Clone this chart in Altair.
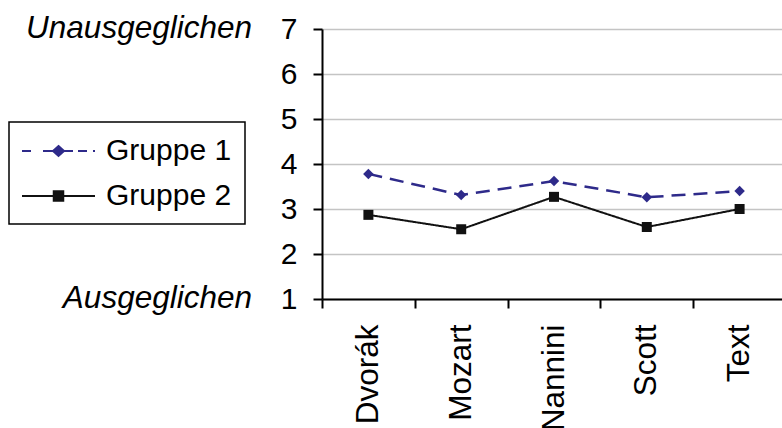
import altair as alt
import pandas as pd

# Bewertung der Musikstücke (1 = ausgeglichen, 7 = unausgeglichen)
stuecke = ["Dvorák", "Mozart", "Nannini", "Scott", "Text"]
gruppe_1 = [3.78, 3.31, 3.62, 3.26, 3.40]
gruppe_2 = [2.87, 2.55, 3.27, 2.60, 3.00]
gruppen = ["Gruppe 1", "Gruppe 2"]
farben = ["#2e2a8a", "#111111"]
y_werte = [1, 2, 3, 4, 5, 6, 7]
pol_werte = [7, 1]
pol_texte = ["Unausgeglichen", "Ausgeglichen"]

FONT = "Liberation Sans"

# Legendensymbole als Pfade (Einheit = halbe Symbolgröße):
# Linie mit einem Marker, der aus verschachtelten Umrissen gefüllt wirkt.
SYM_SIZE = 900
MITTE = 1.367


def raute(cx, w, h):
    teile = []
    for k in (1.0, 0.6, 0.25):
        teile.append(
            f"M{cx:.3f},{-h * k:.3f}L{cx + w * k:.3f},0L{cx:.3f},{h * k:.3f}L{cx - w * k:.3f},0Z"
        )
    return "".join(teile)


def quadrat(cx, s):
    teile = []
    for k in (1.0, 0.6, 0.25):
        a = s * k
        teile.append(
            f"M{cx - a:.3f},{-a:.3f}H{cx + a:.3f}V{a:.3f}H{cx - a:.3f}Z"
        )
    return "".join(teile)


striche_1 = [(-1.067, -0.467), (0.333, 2.333), (2.667, 3.267), (3.667, 3.8)]
pfad_1 = "".join(f"M{a},0H{b}" for a, b in striche_1) + raute(MITTE, 0.367, 0.333)
pfad_2 = "M-1.067,0H3.8" + quadrat(MITTE, 0.317)
legenden_pfade = [pfad_1, pfad_2]

zeilen = []
for stueck, w1, w2 in zip(stuecke, gruppe_1, gruppe_2):
    zeilen.append({"stueck": stueck, "gruppe": gruppen[0], "wert": w1})
    zeilen.append({"stueck": stueck, "gruppe": gruppen[1], "wert": w2})
df = pd.DataFrame(zeilen)
pole = pd.DataFrame({"wert": pol_werte, "text": pol_texte})

x_enc = alt.X(
    "stueck:N",
    sort=stuecke,
    scale=alt.Scale(type="band", paddingInner=0, paddingOuter=0),
    axis=alt.Axis(
        title=None,
        labelAngle=-90,
        tickBand="extent",
        tickSize=9,
        tickWidth=2,
        tickColor="black",
        domainColor="black",
        domainWidth=2,
        labelFont=FONT,
        labelFontSize=31.5,
        labelColor="black",
        labelPadding=16,
        grid=False,
    ),
)
y_enc = alt.Y(
    "wert:Q",
    scale=alt.Scale(domain=[1, 7], nice=False, zero=False),
    axis=alt.Axis(
        title=None,
        values=y_werte,
        grid=True,
        gridColor="#c4c4c4",
        gridWidth=1.6,
        tickSize=9,
        tickWidth=2,
        tickColor="black",
        domainColor="black",
        domainWidth=2,
        labelFont=FONT,
        labelFontSize=30,
        labelColor="black",
        labelPadding=16,
    ),
)

farbskala = alt.Scale(domain=gruppen, range=farben)
basis = alt.Chart(df)

linien = basis.mark_line().encode(
    x=x_enc,
    y=y_enc,
    color=alt.Color("gruppe:N", scale=farbskala, legend=None),
    strokeDash=alt.StrokeDash(
        "gruppe:N", scale=alt.Scale(domain=gruppen, range=[[14, 8], [1, 0]]), legend=None
    ),
    strokeWidth=alt.StrokeWidth(
        "gruppe:N", scale=alt.Scale(domain=gruppen, range=[2.5, 2]), legend=None
    ),
)

punkte = basis.mark_point(filled=True, opacity=1).encode(
    x=alt.X("stueck:N", sort=stuecke),
    y="wert:Q",
    color=alt.Color("gruppe:N", scale=farbskala, legend=None),
    shape=alt.Shape("gruppe:N", scale=alt.Scale(domain=gruppen, range=["diamond", "square"]), legend=None),
    size=alt.Size("gruppe:N", scale=alt.Scale(domain=gruppen, range=[110, 100]), legend=None),
)

# unsichtbare Ebene, die nur die Legende liefert
legende = basis.mark_point(opacity=0, filled=False).encode(
    x=alt.X("stueck:N", sort=stuecke),
    y="wert:Q",
    color=alt.Color("gruppe:N", scale=farbskala, title=None),
    shape=alt.Shape("gruppe:N", scale=alt.Scale(domain=gruppen, range=legenden_pfade), title=None),
)

pol_text = alt.Chart(pole).mark_text(
    align="right",
    baseline="middle",
    font=FONT,
    fontStyle="italic",
    fontSize=31.5,
    color="black",
).encode(
    x=alt.value(-70),
    y=alt.Y("wert:Q"),
    text="text:N",
)

chart = (
    alt.layer(linien, punkte, legende, pol_text)
    .resolve_scale(color="independent", shape="independent", size="independent")
    .properties(
        width=464,
        height=270,
        autosize=alt.AutoSizeParams(type="none"),
        padding={"left": 322, "top": 29, "right": -4, "bottom": 129},
        background="white",
    )
    .configure_view(stroke=None)
    .configure_legend(
        orient="none",
        legendX=-313,
        legendY=93,
        strokeColor="black",
        strokeWidth=1.5,
        padding=13,
        rowPadding=14,
        symbolSize=SYM_SIZE,
        symbolStrokeWidth=2,
        symbolOpacity=1,
        labelFont=FONT,
        labelFontSize=30,
        labelColor="black",
        labelOffset=52,
        titleFontSize=0,
    )
)

chart.save("out.html", embed_options={"renderer": "svg", "actions": False})
